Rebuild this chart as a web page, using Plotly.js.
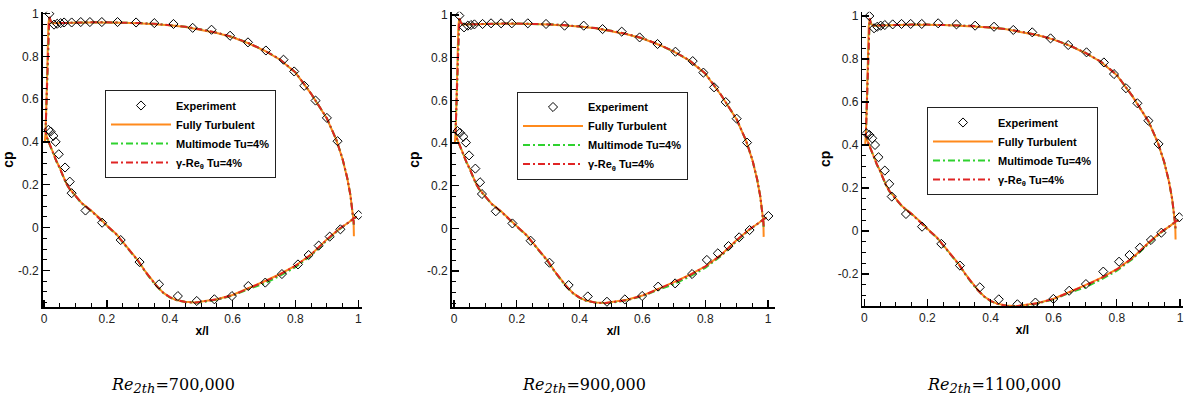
<!DOCTYPE html>
<html>
<head>
<meta charset="utf-8">
<script src="https://cdn.plot.ly/plotly-3.0.1.min.js"></script>
<style>
  html, body { margin: 0; padding: 0; background: #fff; }
  #chart { width: 1184px; height: 398px; }
</style>
</head>
<body>
<div id="chart"></div>
<script>
// ---- axis ticks ----
const xTickVals = [0, 0.2, 0.4, 0.6, 0.8, 1];
const xTickText = ['0', '0.2', '0.4', '0.6', '0.8', '1'];
const yTickVals = [-0.2, 0, 0.2, 0.4, 0.6, 0.8, 1];
const yTickText = ['-0.2', '0', '0.2', '0.4', '0.6', '0.8', '1'];

// ---- outlet Reynolds numbers, one per panel ----
const reynolds = ['700,000', '900,000', '1100,000'];

// ---- measured blade-surface pressure coefficient (suction side, then pressure side) ----
const exp700X = [0.017, 0.032, 0.042, 0.053, 0.064, 0.088, 0.117, 0.146, 0.184, 0.234, 0.293, 0.351, 0.412, 0.473, 0.533, 0.592, 0.649, 0.706, 0.762, 0.796, 0.828, 0.864, 0.900, 0.934, 1.001,
                 0.014, 0.021, 0.030, 0.037, 0.047, 0.067, 0.082, 0.088, 0.132, 0.185, 0.244, 0.304, 0.366, 0.426, 0.486, 0.542, 0.598, 0.650, 0.704, 0.757, 0.808, 0.842, 0.874, 0.909, 0.943];
const exp700Cp = [1.000, 0.949, 0.953, 0.956, 0.959, 0.959, 0.961, 0.961, 0.961, 0.961, 0.959, 0.956, 0.952, 0.934, 0.925, 0.897, 0.866, 0.828, 0.785, 0.730, 0.663, 0.594, 0.513, 0.404, 0.059,
                  0.457, 0.449, 0.429, 0.401, 0.343, 0.281, 0.215, 0.161, 0.080, 0.023, -0.058, -0.161, -0.265, -0.320, -0.343, -0.335, -0.320, -0.273, -0.257, -0.217, -0.172, -0.128, -0.084, -0.042, -0.008];

const exp900X = [0.017, 0.032, 0.044, 0.054, 0.065, 0.091, 0.118, 0.150, 0.184, 0.235, 0.293, 0.352, 0.413, 0.473, 0.534, 0.591, 0.648, 0.705, 0.760, 0.794, 0.828, 0.865, 0.900, 0.933, 1.001,
                 0.011, 0.019, 0.030, 0.038, 0.048, 0.068, 0.083, 0.089, 0.133, 0.186, 0.244, 0.304, 0.365, 0.426, 0.487, 0.544, 0.599, 0.650, 0.704, 0.758, 0.805, 0.840, 0.874, 0.908, 0.941];
const exp900Cp = [0.997, 0.942, 0.950, 0.953, 0.956, 0.958, 0.961, 0.961, 0.961, 0.961, 0.958, 0.950, 0.950, 0.934, 0.922, 0.895, 0.864, 0.828, 0.784, 0.730, 0.661, 0.592, 0.514, 0.402, 0.058,
                  0.456, 0.448, 0.430, 0.402, 0.342, 0.280, 0.216, 0.161, 0.080, 0.023, -0.058, -0.161, -0.266, -0.319, -0.344, -0.333, -0.317, -0.273, -0.258, -0.214, -0.148, -0.117, -0.083, -0.042, -0.008];

const exp1100X = [0.016, 0.031, 0.041, 0.052, 0.065, 0.090, 0.118, 0.147, 0.182, 0.234, 0.292, 0.351, 0.411, 0.472, 0.532, 0.590, 0.646, 0.704, 0.759, 0.791, 0.829, 0.865, 0.900, 0.932, 0.998,
                  0.007, 0.016, 0.025, 0.034, 0.045, 0.065, 0.079, 0.087, 0.132, 0.183, 0.244, 0.303, 0.366, 0.426, 0.485, 0.542, 0.599, 0.649, 0.702, 0.757, 0.807, 0.840, 0.873, 0.908, 0.941];
const exp1100Cp = [1.000, 0.943, 0.950, 0.955, 0.958, 0.961, 0.963, 0.963, 0.963, 0.966, 0.961, 0.955, 0.950, 0.935, 0.924, 0.896, 0.865, 0.831, 0.784, 0.730, 0.664, 0.594, 0.513, 0.405, 0.064,
                   0.454, 0.447, 0.431, 0.400, 0.343, 0.281, 0.219, 0.160, 0.079, 0.020, -0.060, -0.161, -0.262, -0.318, -0.341, -0.333, -0.316, -0.278, -0.247, -0.189, -0.143, -0.112, -0.078, -0.042, -0.008];

// ---- computed surface Cp, traced from the pressure-side trailing edge round the leading edge to the suction-side trailing edge ----
const turbX = [0.995, 0.987, 0.970, 0.940, 0.900, 0.850, 0.800, 0.750, 0.700, 0.650, 0.600, 0.550, 0.500, 0.480, 0.450, 0.420, 0.400, 0.380, 0.360, 0.340, 0.320, 0.300, 0.280, 0.260, 0.230, 0.200, 0.180, 0.150, 0.120, 0.100, 0.080, 0.070, 0.060, 0.050, 0.040, 0.030, 0.020, 0.010, 0.005, 0.003, 0.005,
               0.008, 0.011, 0.014, 0.017, 0.021, 0.028, 0.050, 0.100, 0.150, 0.200, 0.250, 0.300, 0.350, 0.400, 0.450, 0.500, 0.550, 0.600, 0.650, 0.700, 0.750, 0.800, 0.850, 0.900, 0.930, 0.950, 0.965, 0.975, 0.982, 0.985, 0.986];
const turbCp = [0.050, 0.045, 0.025, -0.005, -0.055, -0.125, -0.178, -0.218, -0.252, -0.283, -0.315, -0.335, -0.348, -0.350, -0.347, -0.338, -0.325, -0.305, -0.275, -0.240, -0.200, -0.155, -0.120, -0.085, -0.030, 0.010, 0.040, 0.080, 0.115, 0.150, 0.185, 0.210, 0.250, 0.280, 0.310, 0.345, 0.380, 0.420, 0.450, 0.405, 0.450,
                0.600, 0.800, 0.950, 0.985, 0.965, 0.955, 0.955, 0.958, 0.959, 0.959, 0.958, 0.955, 0.952, 0.946, 0.938, 0.925, 0.910, 0.890, 0.862, 0.828, 0.786, 0.725, 0.625, 0.510, 0.410, 0.320, 0.230, 0.150, 0.080, 0.030, -0.040];

const multiX = [0.995, 0.987, 0.970, 0.940, 0.900, 0.850, 0.800, 0.750, 0.700, 0.650, 0.600, 0.550, 0.500, 0.480, 0.450, 0.420, 0.400, 0.380, 0.360, 0.340, 0.320, 0.300, 0.280, 0.260, 0.230, 0.200, 0.180, 0.150, 0.120, 0.100, 0.080, 0.070, 0.060, 0.050, 0.040, 0.030, 0.020, 0.010, 0.005,
                0.008, 0.011, 0.014, 0.017, 0.021, 0.028, 0.050, 0.100, 0.150, 0.200, 0.250, 0.300, 0.350, 0.400, 0.450, 0.500, 0.550, 0.600, 0.650, 0.700, 0.750, 0.800, 0.850, 0.900, 0.930, 0.950, 0.965, 0.975, 0.982, 0.985, 0.986];
const multiCp = [0.050, 0.045, 0.025, -0.008, -0.060, -0.130, -0.185, -0.226, -0.262, -0.288, -0.318, -0.337, -0.349, -0.351, -0.348, -0.339, -0.326, -0.306, -0.276, -0.242, -0.202, -0.158, -0.122, -0.087, -0.032, 0.008, 0.038, 0.078, 0.113, 0.148, 0.183, 0.208, 0.248, 0.278, 0.308, 0.343, 0.378, 0.418, 0.450,
                 0.600, 0.800, 0.950, 0.988, 0.966, 0.956, 0.956, 0.959, 0.960, 0.960, 0.959, 0.956, 0.953, 0.947, 0.939, 0.926, 0.911, 0.891, 0.863, 0.829, 0.787, 0.726, 0.626, 0.511, 0.411, 0.321, 0.231, 0.151, 0.081, 0.030, 0.000];

const gammaX = [0.995, 0.987, 0.970, 0.940, 0.900, 0.850, 0.800, 0.750, 0.700, 0.650, 0.600, 0.550, 0.500, 0.480, 0.450, 0.420, 0.400, 0.380, 0.360, 0.340, 0.320, 0.300, 0.280, 0.260, 0.230, 0.200, 0.180, 0.150, 0.120, 0.100, 0.080, 0.070, 0.060, 0.050, 0.040, 0.030, 0.020, 0.010, 0.005,
                0.008, 0.011, 0.014, 0.017, 0.021, 0.028, 0.050, 0.100, 0.150, 0.200, 0.250, 0.300, 0.350, 0.400, 0.450, 0.500, 0.550, 0.600, 0.650, 0.700, 0.750, 0.800, 0.850, 0.900, 0.930, 0.950, 0.965, 0.975, 0.982, 0.985, 0.986];
const gammaCp = [0.050, 0.045, 0.025, -0.005, -0.056, -0.126, -0.179, -0.220, -0.254, -0.284, -0.316, -0.336, -0.349, -0.351, -0.348, -0.338, -0.325, -0.305, -0.276, -0.241, -0.201, -0.156, -0.121, -0.086, -0.031, 0.009, 0.039, 0.079, 0.114, 0.149, 0.184, 0.209, 0.249, 0.279, 0.309, 0.344, 0.379, 0.419, 0.450,
                 0.600, 0.800, 0.950, 0.990, 0.966, 0.956, 0.956, 0.959, 0.960, 0.960, 0.959, 0.956, 0.953, 0.947, 0.939, 0.926, 0.911, 0.891, 0.863, 0.829, 0.787, 0.726, 0.626, 0.511, 0.411, 0.321, 0.231, 0.151, 0.081, 0.030, 0.010];

const expSets = [[exp700X, exp700Cp], [exp900X, exp900Cp], [exp1100X, exp1100Cp]];

// ---- panel frames (pixel geometry of each plot area, and its axis ranges) ----
const W = 1184, H = 398;
const panels = [
  { left: 42.7,  right: 361.7,  top: 11.7, bottom: 307.3, xr: [-0.0041, 1.0108], yr: [-0.3725, 1.0094], legX: 105, legY: 134, capX: 172.5 },
  { left: 451.7, right: 775.0,  top: 11.7, bottom: 307.3, xr: [-0.0073, 1.0220], yr: [-0.3700, 1.0155], legX: 517, legY: 135.5, capX: 584 },
  { left: 862.3, right: 1182.7, top: 11.7, bottom: 306.0, xr: [-0.0063, 1.0086], yr: [-0.3490, 1.0200], legX: 927, legY: 151, capX: 994 }
];

const data = [];
const layout = {
  width: W, height: H,
  margin: { l: 0, r: 0, t: 0, b: 0 },
  paper_bgcolor: '#ffffff',
  plot_bgcolor: '#ffffff',
  showlegend: true,
  font: { family: 'Liberation Sans, Arial, sans-serif', color: '#111' },
  annotations: []
};

const axisCommon = {
  showline: true, linecolor: '#000', linewidth: 1.5, mirror: false,
  ticks: 'inside', ticklen: 7, tickwidth: 1.3, tickcolor: '#000',
  showgrid: false, zeroline: false,
  tickfont: { family: 'Liberation Sans, Arial, sans-serif', size: 12, color: '#222' },
  minor: { ticks: 'inside', dtick: 0.05, ticklen: 4, tickwidth: 1, tickcolor: '#000', showgrid: false },
  fixedrange: true
};

panels.forEach((p, i) => {
  const n = i === 0 ? '' : String(i + 1);
  const xa = 'x' + n, ya = 'y' + n;
  const leg = 'legend' + n;

  layout['xaxis' + n] = Object.assign({}, axisCommon, {
    domain: [p.left / W, p.right / W], range: p.xr, anchor: ya,
    tickmode: 'array', tickvals: xTickVals, ticktext: xTickText,
    minor: Object.assign({}, axisCommon.minor, { tick0: 0 }),
    title: { text: 'x/l', font: { size: 12, weight: 'bold', color: '#000' }, standoff: 1 }
  });
  layout['yaxis' + n] = Object.assign({}, axisCommon, {
    domain: [1 - p.bottom / H, 1 - p.top / H], range: p.yr, anchor: xa,
    tickmode: 'array', tickvals: yTickVals, ticktext: yTickText,
    minor: Object.assign({}, axisCommon.minor, { tick0: 0 }),
    title: { text: 'cp', font: { size: 14, weight: 'bold', color: '#000' }, standoff: 4 }
  });
  layout[leg] = {
    x: p.legX / W, y: 1 - p.legY / H, xanchor: 'left', yanchor: 'middle',
    bgcolor: '#ffffff', bordercolor: '#222', borderwidth: 1,
    font: { family: 'Liberation Sans, Arial, sans-serif', size: 11, weight: 'bold', color: '#000' },
    itemwidth: 60, tracegroupgap: 0
  };

  data.push({
    type: 'scatter', mode: 'lines', name: 'Fully Turbulent',
    x: turbX, y: turbCp, xaxis: xa, yaxis: ya, legend: leg,
    line: { color: '#ff8a1c', width: 2 }, hoverinfo: 'skip', legendrank: 2
  });
  data.push({
    type: 'scatter', mode: 'lines', name: 'Multimode Tu=4%',
    x: multiX, y: multiCp, xaxis: xa, yaxis: ya, legend: leg,
    line: { color: '#2fd22f', width: 2, dash: '7px,3px,2px,3px' }, hoverinfo: 'skip', legendrank: 3
  });
  data.push({
    type: 'scatter', mode: 'lines', name: 'γ-Re<sub>θ</sub> Tu=4%',
    x: gammaX, y: gammaCp, xaxis: xa, yaxis: ya, legend: leg,
    line: { color: '#e02424', width: 2, dash: '7px,3px,2px,3px' }, hoverinfo: 'skip', legendrank: 4
  });
  data.push({
    type: 'scatter', mode: 'markers', name: 'Experiment',
    x: expSets[i][0], y: expSets[i][1], xaxis: xa, yaxis: ya, legend: leg,
    marker: { symbol: 'diamond-open', size: 7, color: '#000', line: { width: 1, color: '#000' } },
    hoverinfo: 'skip', legendrank: 1
  });

  // Reynolds-number caption under each panel
  layout.annotations.push({
    xref: 'paper', yref: 'paper', x: p.capX / W, y: 1 - 385 / H,
    xanchor: 'center', yanchor: 'middle', showarrow: false,
    text: '<i>Re</i><sub><span style="font-size:13px"><i>2th</i></span></sub>=' + reynolds[i],
    font: { family: 'DejaVu Serif, Liberation Serif, serif', size: 16, color: '#000' }
  });
});

Plotly.newPlot('chart', data, layout, { staticPlot: true, displayModeBar: false });
</script>
</body>
</html>
